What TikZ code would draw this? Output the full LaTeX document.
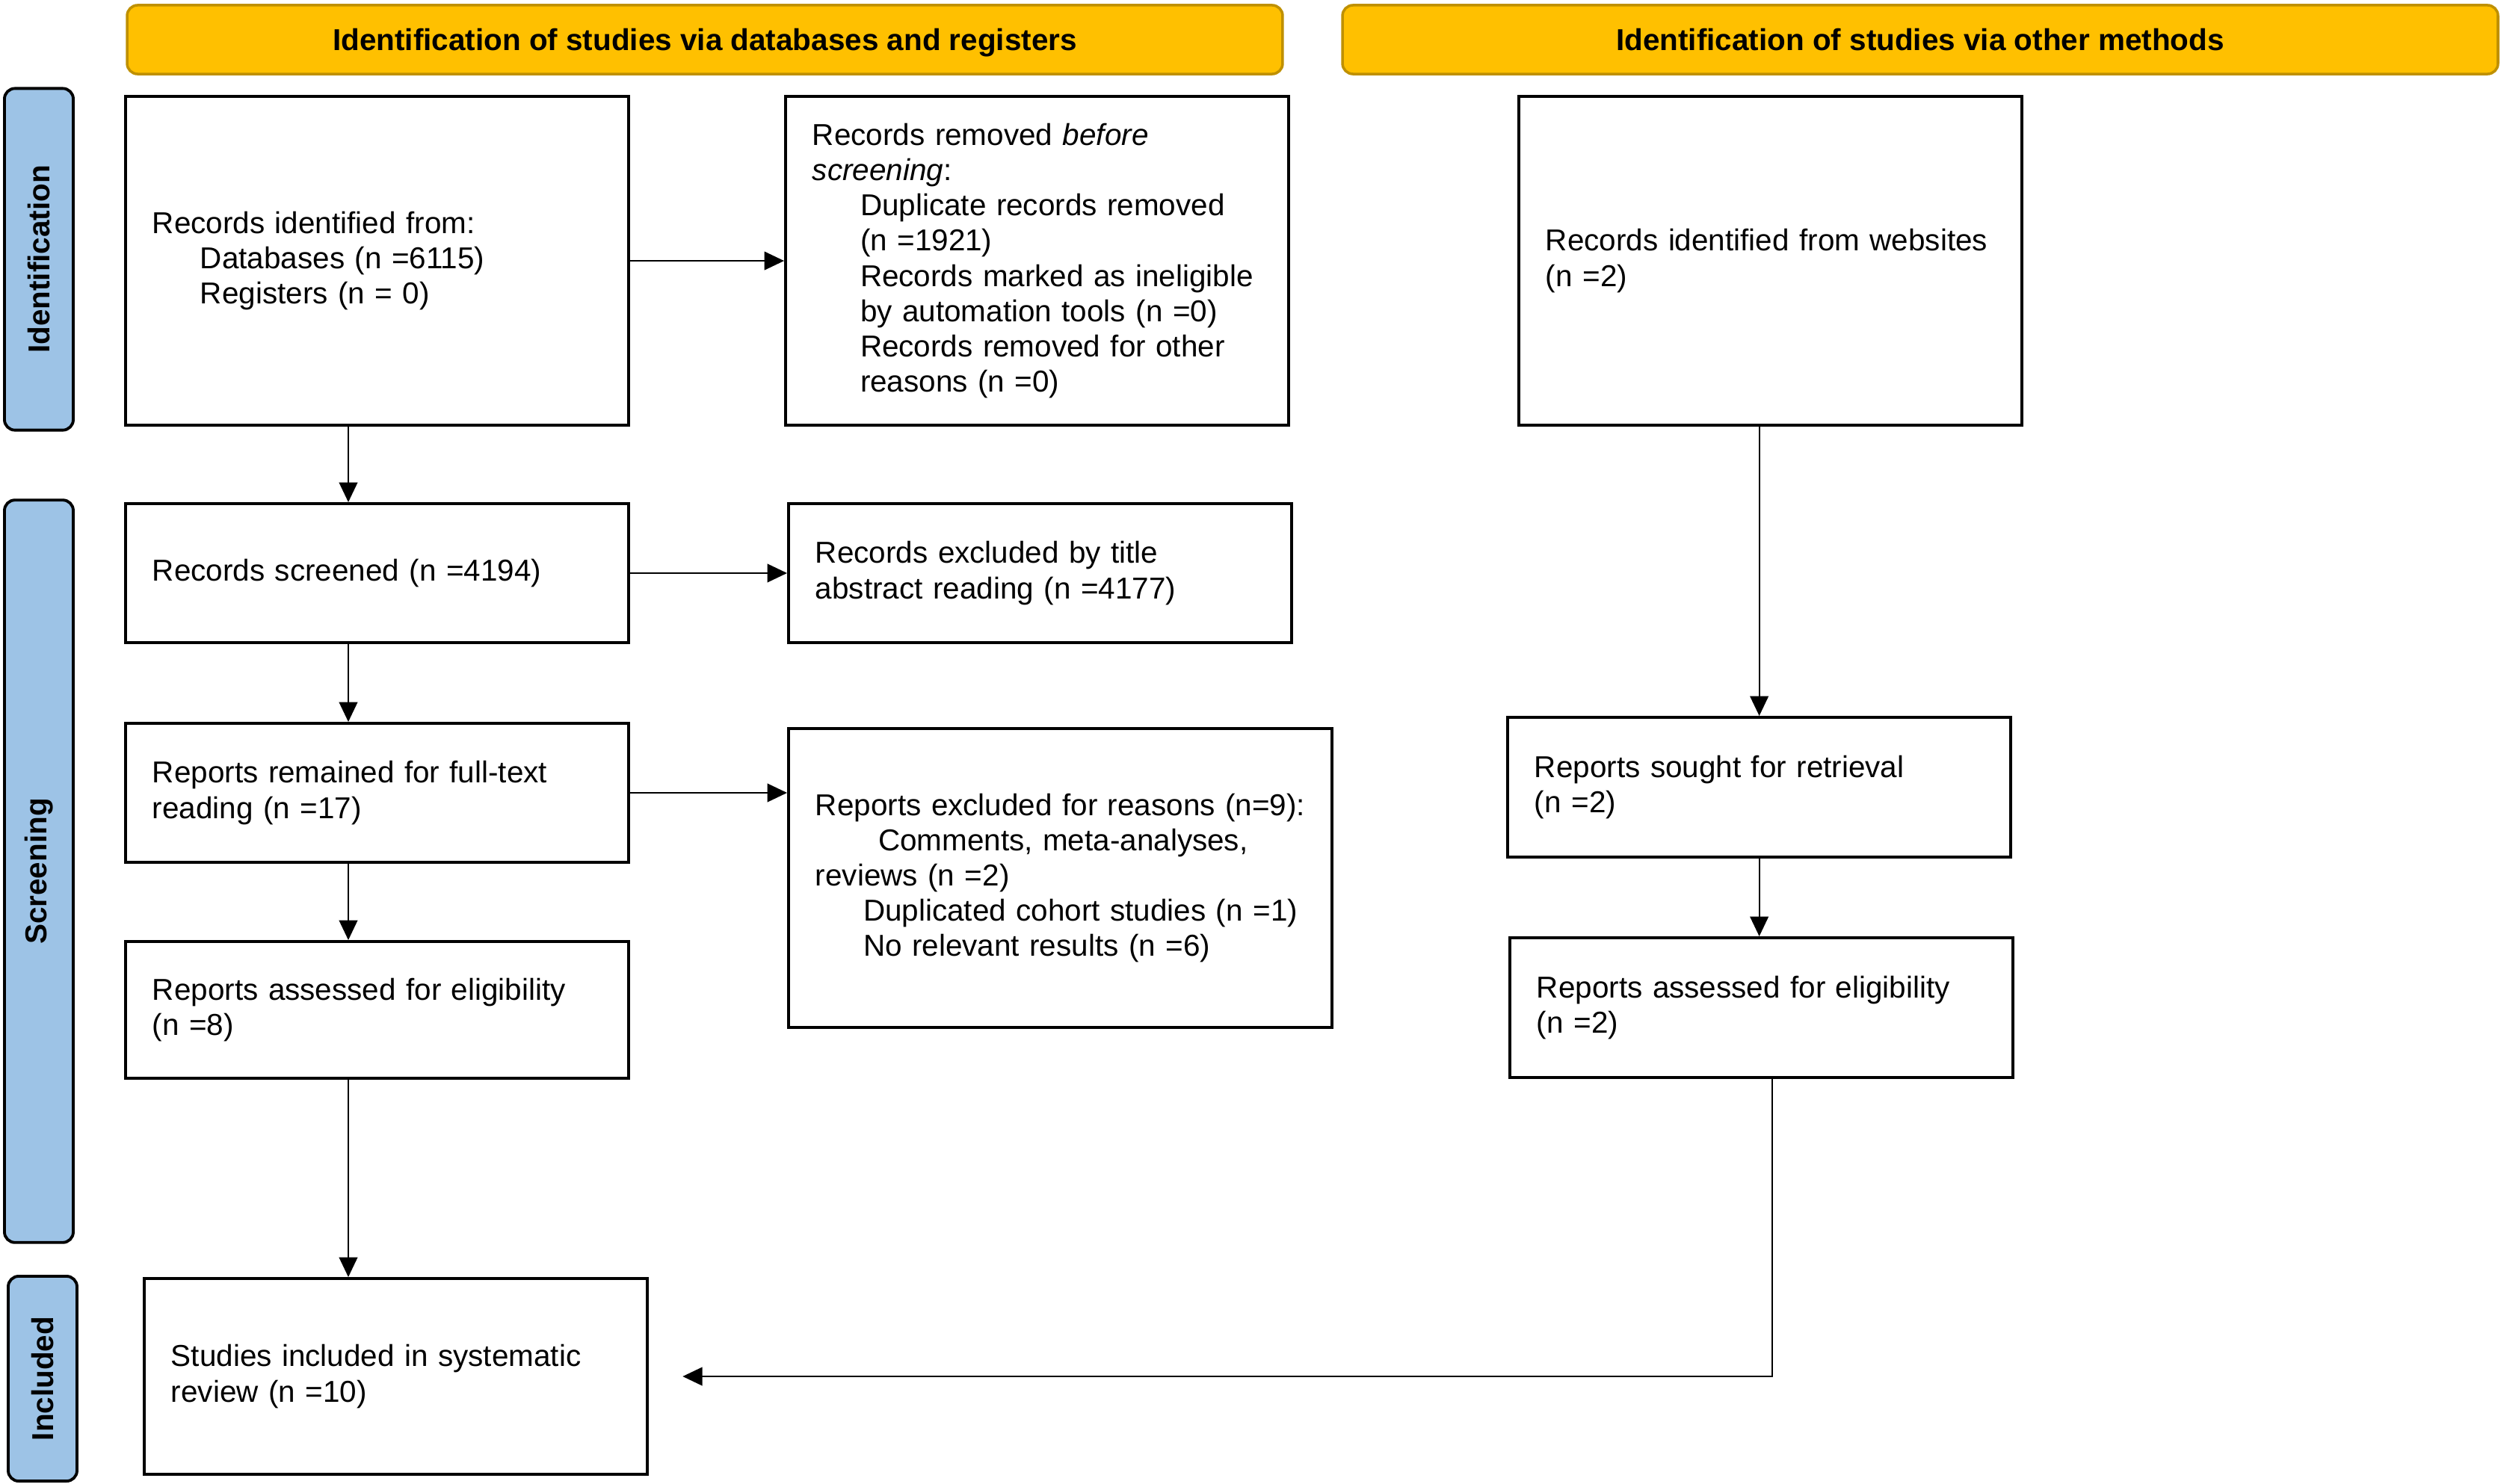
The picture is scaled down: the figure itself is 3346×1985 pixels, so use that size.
\documentclass[tikz,border=0pt]{standalone}
\usepackage{fontspec}
\setmainfont{Liberation Sans}
\usepackage{xcolor}
\definecolor{headgold}{HTML}{FFC000}
\definecolor{headedge}{HTML}{BF9000}
\definecolor{sideblue}{HTML}{9DC3E6}
\usepackage{tikz}
\usetikzlibrary{positioning,arrows.meta}

\begin{document}
\begin{tikzpicture}[x=0.01cm, y=-0.01cm,
    every node/.style={font=\fontsize{11.5pt}{13.4pt}\selectfont},
    header/.style={draw=headedge, fill=headgold, line width=1pt, rounded corners=4pt,
      minimum width=15.45cm, minimum height=0.92cm, text depth=0pt,
      font=\fontsize{11.5pt}{13.4pt}\selectfont\bfseries},
    phase/.style={draw=black, fill=sideblue, line width=1.1pt, rounded corners=4pt, rotate=90,
      minimum height=0.92cm, font=\fontsize{11.5pt}{13.4pt}\selectfont\bfseries},
    flowbox/.style={draw, line width=1.1pt, anchor=north west, align=left,
      inner xsep=0.36cm, text width=6.01cm},
    arr/.style={-{Triangle[length=7.5pt,width=7pt]}, line width=0.6pt}]
  \useasboundingbox (0,0) rectangle (3346,1985);

  % headers
  \node[header] (hdb) at (943,53) {Identification of studies via databases and registers};
  \node[header] (hom) at (2569,53) {Identification of studies via other methods};

  % phases
  \node[phase, minimum width=4.57cm] (pid) at (52,347) {Identification};
  \node[phase, minimum width=9.93cm] (pscr) at (52,1166) {Screening};
  \node[phase, minimum width=2.74cm] (pinc) at (57,1845) {Included};

  % databases and registers
  \node[flowbox, minimum height=4.40cm] (ident) at (166,127)
    {Records identified from:\\
     \hspace*{0.64cm}Databases (n =6115)\\
     \hspace*{0.64cm}Registers (n = 0)};
  \node[flowbox, minimum height=4.40cm] (removed) at (1049,127)
    {Records removed \textit{before}\\
     \textit{screening}:\\
     \hspace*{0.64cm}Duplicate records removed\\
     \hspace*{0.64cm}(n =1921)\\
     \hspace*{0.64cm}Records marked as ineligible\\
     \hspace*{0.64cm}by automation tools (n =0)\\
     \hspace*{0.64cm}Records removed for other\\
     \hspace*{0.64cm}reasons (n =0)};
  \node[flowbox, minimum height=1.86cm] (screened) at (166,672)
    {Records screened (n =4194)};
  \node[flowbox, minimum height=1.86cm] (excltitle) at (1053,672)
    {Records excluded by title\\abstract reading (n =4177)};
  \node[flowbox, minimum height=1.86cm] (fulltext) at (166,966)
    {Reports remained for full-text\\reading (n =17)};
  \node[flowbox, minimum height=4.00cm, text width=6.55cm] (exclrep) at (1053,973)
    {Reports excluded for reasons (n=9):\\
     \hspace*{0.84cm}Comments, meta-analyses,\\
     reviews (n =2)\\
     \hspace*{0.64cm}Duplicated cohort studies (n =1)\\
     \hspace*{0.64cm}No relevant results (n =6)};
  \node[flowbox, minimum height=1.83cm] (assessed) at (166,1258)
    {Reports assessed for eligibility\\(n =8)};
  \node[flowbox, minimum height=2.62cm] (included) at (191,1709)
    {Studies included in systematic\\review (n =10)};

  % other methods
  \node[flowbox, minimum height=4.40cm] (websites) at (2030,127)
    {Records identified from websites\\(n =2)};
  \node[flowbox, minimum height=1.87cm] (sought) at (2015,958)
    {Reports sought for retrieval\\(n =2)};
  \node[flowbox, minimum height=1.87cm] (assessedo) at (2018,1253)
    {Reports assessed for eligibility\\(n =2)};

  \coordinate (spine) at (466,0);

  \draw[arr] (ident) -- (removed);
  \draw[arr] (ident.south -| spine) -- (screened.north -| spine);
  \draw[arr] (screened) -- (excltitle);
  \draw[arr] (screened.south -| spine) -- (fulltext.north -| spine);
  \draw[arr] (fulltext.east) -- (fulltext.east -| exclrep.west);
  \draw[arr] (fulltext.south -| spine) -- (assessed.north -| spine);
  \draw[arr] (assessed.south -| spine) -- (included.north -| spine);

  \draw[arr] (websites.south -| sought.north) -- (sought.north);
  \draw[arr] (sought.south) -- (sought.south |- assessedo.north);
  \draw[arr] ([xshift=0.14cm]assessedo.south) |- ([xshift=0.45cm]included.east);
\end{tikzpicture}
\end{document}
